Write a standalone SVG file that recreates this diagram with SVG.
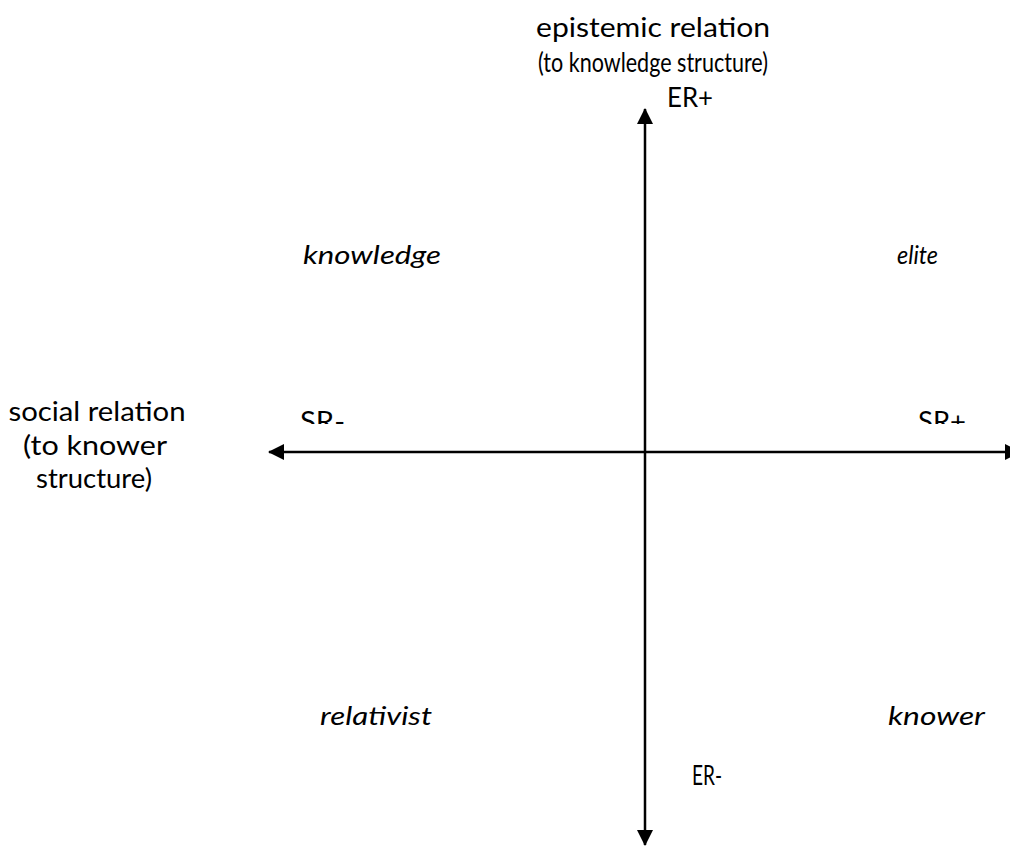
<svg xmlns="http://www.w3.org/2000/svg" width="1010" height="848" viewBox="0 0 1010 848">
<style>
.t{font-family:Lato,"Liberation Sans",sans-serif;font-size:26px;fill:#000}
.i{font-style:italic}
.ax{stroke:#000;stroke-width:2.5;fill:none}
</style>
<defs>
<marker id="ah" viewBox="0 0 16 16" refX="15" refY="8" markerWidth="16" markerHeight="16" markerUnits="userSpaceOnUse" orient="auto-start-reverse">
<path d="M0,0 L16,8 L0,16 Z" fill="#000"/>
</marker>
<clipPath id="cl"><rect x="0" y="0" width="1010" height="424"/></clipPath>
</defs>
<rect width="1010" height="848" fill="#fff"/>
<g id="connectors">
<line class="ax" x1="645" y1="109" x2="645" y2="845" marker-start="url(#ah)" marker-end="url(#ah)"/>
<line class="ax" x1="269" y1="452" x2="1020" y2="452" marker-start="url(#ah)" marker-end="url(#ah)"/>
</g>
<g id="er-axis-label"><text class="t" x="653" y="37" text-anchor="middle" textLength="234" lengthAdjust="spacingAndGlyphs">epistemic relation</text>
<text class="t" x="653" y="72" text-anchor="middle" textLength="230" lengthAdjust="spacingAndGlyphs">(to knowledge structure)</text></g>
<g id="sr-axis-label"><text class="t" x="97" y="421" text-anchor="middle" textLength="177" lengthAdjust="spacingAndGlyphs">social relation</text>
<text class="t" x="95" y="455" text-anchor="middle" textLength="144" lengthAdjust="spacingAndGlyphs">(to knower</text>
<text class="t" x="94" y="488" text-anchor="middle" textLength="116" lengthAdjust="spacingAndGlyphs">structure)</text></g>
<g id="er-plus"><text class="t" x="667" y="107" textLength="46" lengthAdjust="spacingAndGlyphs">ER+</text></g>
<g id="er-minus"><text class="t" x="692" y="785" textLength="30" lengthAdjust="spacingAndGlyphs">ER-</text></g>
<g id="sr-minus" clip-path="url(#cl)"><text class="t" x="300" y="431" textLength="45" lengthAdjust="spacingAndGlyphs">SR-</text></g>
<g id="sr-plus" clip-path="url(#cl)"><text class="t" x="918" y="431" textLength="48" lengthAdjust="spacingAndGlyphs">SR+</text></g>
<g id="knowledge"><text class="t i" x="303" y="264" textLength="138" lengthAdjust="spacingAndGlyphs">knowledge</text></g>
<g id="elite"><text class="t i" x="897" y="264" textLength="41" lengthAdjust="spacingAndGlyphs">elite</text></g>
<g id="relativist"><text class="t i" x="320" y="725" textLength="112" lengthAdjust="spacingAndGlyphs">relativist</text></g>
<g id="knower"><text class="t i" x="888" y="725" textLength="97" lengthAdjust="spacingAndGlyphs">knower</text></g>
</svg>
